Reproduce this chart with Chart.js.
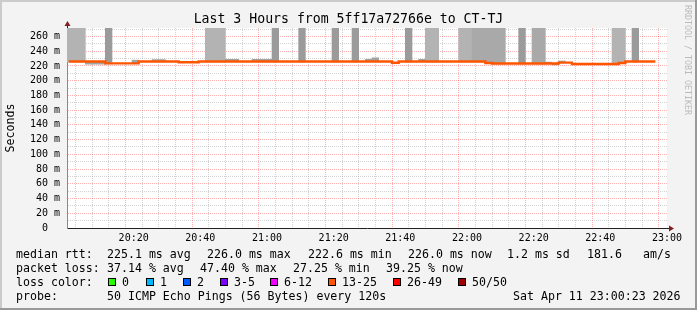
<!DOCTYPE html>
<html>
<head>
<meta charset="utf-8">
<script src="https://cdn.jsdelivr.net/npm/chart.js@4.4.1/dist/chart.umd.min.js"></script>
<style>
  html, body { margin: 0; padding: 0; }
  body { width: 697px; height: 310px; position: relative; overflow: hidden; background: #f3f3f3;
         font-family: 'DejaVu Sans Mono', monospace; color: #000; }
  canvas { position: absolute; left: 0; top: 0; }
  .t { position: absolute; white-space: pre; font-size: 11.6px; line-height: 14px; }
  #title { position: absolute; left: 0; top: 11px; width: 697px; text-align: center; white-space: pre;
           font-size: 13.2px; line-height: 16px; }
  #credit { position: absolute; left: 683px; top: 5px; writing-mode: vertical-rl; font-size: 8.3px;
            line-height: 10px; color: #bbbbbb; white-space: pre; }
  .box { position: absolute; top: 278px; width: 6px; height: 6px; border: 1px solid #000; }
</style>
</head>
<body>
<canvas id="chart" width="697" height="310"></canvas>
<div id="title">Last 3 Hours from 5ff17a72766e to CT-TJ</div>
<div id="credit">RRDTOOL / TOBI OETIKER</div>
<div id="legend"></div>
<script>
// median rtt per 120s step (ms), step i centred at 20:00 + (2i + 0.5) min
const medianRtt = [
  226.0, 226.0, 226.0, 226.0, 226.0, 226.0, 223.5, 223.5, 223.5, 223.5,
  223.5, 226.0, 226.0, 226.0, 226.0, 226.0, 226.0, 225.0, 225.0, 225.0,
  226.0, 226.0, 226.0, 226.0, 226.0, 226.0, 226.0, 226.0, 226.0, 226.0,
  226.0, 226.0, 226.0, 226.0, 226.0, 226.0, 226.0, 226.0, 226.0, 226.0,
  226.0, 226.0, 226.0, 226.0, 226.0, 226.0, 226.0, 226.0, 226.0, 224.4,
  226.0, 226.0, 226.0, 226.0, 226.0, 226.0, 226.0, 226.0, 226.0, 226.0,
  226.0, 226.0, 226.0, 224.0, 223.3, 223.3, 223.3, 223.3, 223.3, 223.3,
  223.3, 223.3, 223.3, 223.3, 224.5, 224.5, 222.6, 222.6, 222.6, 222.6,
  222.6, 222.6, 222.6, 224.0, 226.0, 226.0, 226.0, 226.0, 226.0
];

// smoke that runs off the top of the graph
const smokeTallSteps   = [0, 1, 2, 6, 21, 22, 23, 31, 35, 40, 43, 51, 54, 55, 59, 60, 61, 62, 63, 64, 65, 68, 70, 71, 82, 83, 85];
const smokeTallLo      = [225.4, 225.4, 225.4, 222.9, 225.4, 225.4, 225.4, 225.4, 225.4, 225.4, 225.4, 225.4, 225.4, 225.4,
                          225.4, 225.4, 225.4, 225.4, 223.4, 222.7, 222.7, 222.7, 222.7, 222.7, 222.0, 223.4, 225.4];
const smokeTallDensity = [1, 1, 1, 3, 1, 1, 1, 3, 3, 3, 3, 3, 1, 1, 1, 1, 2, 2, 2, 2, 2, 3, 2, 2, 1, 1, 3];
const smokeTop = 280;

// small smoke bits near the median
const smokeBitSteps = [3, 4, 5, 10, 13, 14, 24, 25, 28, 29, 30, 45, 46, 53, 72, 73, 74];
const smokeBitLo    = [222.4, 222.4, 222.4, 223.5, 226.0, 226.0, 226.0, 226.0, 226.0, 226.0, 226.0, 226.0, 226.0, 226.0, 223.3, 221.4, 224.5];
const smokeBitHi    = [225.5, 225.5, 225.5, 227.8, 228.6, 228.6, 229.0, 229.0, 229.0, 229.0, 229.0, 229.0, 231.0, 229.0, 225.2, 223.3, 226.7];

const yMajorTicks = [0, 20, 40, 60, 80, 100, 120, 140, 160, 180, 200, 220, 240, 260];
const yTickLabels = ['0  ', '20 m', '40 m', '60 m', '80 m', '100 m', '120 m', '140 m', '160 m', '180 m', '200 m', '220 m', '240 m', '260 m'];
const xMajorTicks = [20, 40, 60, 80, 100, 120, 140, 160, 180]; // minutes after 20:00
const xTickLabels = ['20:20', '20:40', '21:00', '21:20', '21:40', '22:00', '22:20', '22:40', '23:00'];

const FONT = 'DejaVu Sans Mono';
const MGRID = 'rgba(255, 40, 40, 0.36)';
const GRID = 'rgba(150, 150, 150, 0.42)';
const SHADES = { 1: '#b3b3b3', 2: '#a9a9a9', 3: '#9b9b9b' };

// legend rows under the graph
const legendRows = [
  { top: 247, items: [[16, 'median rtt:'], [107, '225.1 ms avg'], [207, '226.0 ms max'], [308, '222.6 ms min'],
                      [408, '226.0 ms now'], [507, '1.2 ms sd'], [587, '181.6'], [643, 'am/s']] },
  { top: 261, items: [[16, 'packet loss:'], [107, '37.14 % avg'], [200, '47.40 % max'], [293, '27.25 % min'], [386, '39.25 % now']] },
  { top: 275, items: [[16, 'loss color:']] },
  { top: 289, items: [[16, 'probe:'], [107, '50 ICMP Echo Pings (56 Bytes) every 120s'], [513, 'Sat Apr 11 23:00:23 2026']] }
];
const lossLabels = ['0', '1', '2', '3-5', '6-12', '13-25', '26-49', '50/50'];
const lossColors = ['#26ff00', '#00b8ff', '#0059ff', '#7e00ff', '#ee00ff', '#ff5500', '#ff0000', '#a10000'];
const lossBoxX = [108, 146, 183, 220, 270, 328, 393, 458];

const legend = document.getElementById('legend');
legendRows.forEach(row => {
  row.items.forEach(([x, text]) => {
    const d = document.createElement('div');
    d.className = 't';
    d.style.left = x + 'px';
    d.style.top = row.top + 'px';
    d.textContent = text;
    legend.appendChild(d);
  });
});
lossLabels.forEach((label, i) => {
  const b = document.createElement('div');
  b.className = 'box';
  b.style.left = lossBoxX[i] + 'px';
  b.style.background = lossColors[i];
  legend.appendChild(b);
  const d = document.createElement('div');
  d.className = 't';
  d.style.left = (lossBoxX[i] + 14) + 'px';
  d.style.top = '275px';
  d.textContent = label;
  legend.appendChild(d);
});

// grid positions
const yGrid = [];
for (let v = 0; v <= 270; v += 10) yGrid.push(v);
const xGrid = [];
for (let v = 0; v <= 180; v += 5) xGrid.push(v);

const frame = {
  id: 'frame',
  beforeDraw(chart) {
    const { ctx, width, height, chartArea: a } = chart;
    ctx.save();
    ctx.fillStyle = '#f3f3f3';
    ctx.fillRect(0, 0, width, height);
    ctx.fillStyle = '#cbcbcb';
    ctx.fillRect(0, 0, width, 2);
    ctx.fillRect(0, 0, 2, height);
    ctx.fillStyle = '#999999';
    ctx.fillRect(0, height - 2, width, 2);
    ctx.fillRect(width - 2, 0, 2, height);
    ctx.fillStyle = '#ffffff';
    ctx.fillRect(a.left, a.top, a.right - a.left, a.bottom - a.top);
    ctx.restore();
  },
  afterDraw(chart) {
    const { ctx, chartArea: a } = chart;
    ctx.save();
    ctx.strokeStyle = '#222';
    ctx.lineWidth = 1;
    ctx.beginPath();
    ctx.moveTo(a.right, a.bottom + 0.5);
    ctx.lineTo(a.right + 2, a.bottom + 0.5);
    ctx.moveTo(a.left + 0.5, a.top);
    ctx.lineTo(a.left + 0.5, a.top - 2);
    ctx.stroke();
    ctx.fillStyle = '#7f1f1f';
    ctx.beginPath();
    ctx.moveTo(a.left + 0.5, a.top - 7);
    ctx.lineTo(a.left - 2.5, a.top - 2);
    ctx.lineTo(a.left + 3.5, a.top - 2);
    ctx.closePath();
    ctx.fill();
    ctx.beginPath();
    ctx.moveTo(a.right + 7, a.bottom + 0.5);
    ctx.lineTo(a.right + 2, a.bottom - 2.5);
    ctx.lineTo(a.right + 2, a.bottom + 3.5);
    ctx.closePath();
    ctx.fill();
    ctx.restore();
  }
};

new Chart(document.getElementById('chart'), {
  type: 'bar',
  data: {
    datasets: [{
      type: 'line',
      data: medianRtt.map((v, i) => ({ x: i * 2 + 0.5, y: v })),
      borderColor: '#ff5500',
      borderWidth: 2.4,
      pointRadius: 0,
      stepped: 'middle',
      order: 0
    }, {
      type: 'bar',
      data: smokeBitSteps.map((s, k) => ({ x: s * 2 + 0.5, y: [smokeBitLo[k], smokeBitHi[k]] })),
      backgroundColor: '#a2a2a2',
      borderWidth: 0,
      grouped: false,
      clip: 0,
      barPercentage: 1,
      categoryPercentage: 1,
      order: 1
    }, {
      type: 'bar',
      data: smokeTallSteps.map((s, k) => ({ x: s * 2 + 0.5, y: [smokeTallLo[k], smokeTop] })),
      backgroundColor: smokeTallDensity.map(d => SHADES[d]),
      borderWidth: 0,
      grouped: false,
      clip: 0,
      barPercentage: 1,
      categoryPercentage: 1,
      order: 2
    }]
  },
  options: {
    responsive: false,
    animation: false,
    devicePixelRatio: 1,
    layout: { padding: { top: 28, right: 30, bottom: 62, left: 0 } },
    plugins: { legend: { display: false }, tooltip: { enabled: false } },
    scales: {
      x: {
        type: 'linear',
        min: 0,
        max: 180,
        offset: false,
        afterBuildTicks: s => { s.ticks = xGrid.map(v => ({ value: v })); },
        afterFit: s => { s.height = 20; },
        grid: {
          color: c => (c.tick && xMajorTicks.includes(c.tick.value)) ? MGRID : GRID,
          drawTicks: false
        },
        border: { color: '#222', width: 1, dash: [1, 1] },
        ticks: {
          autoSkip: false,
          maxRotation: 0,
          padding: 4,
          color: '#000',
          font: { family: FONT, size: 10 },
          callback: v => {
            const i = xMajorTicks.indexOf(v);
            return i >= 0 ? xTickLabels[i] : '';
          }
        }
      },
      y: {
        min: 0,
        max: 271.5,
        afterBuildTicks: s => { s.ticks = yGrid.map(v => ({ value: v })); },
        afterFit: s => { s.width = 67; },
        grid: {
          color: c => (c.tick && c.tick.value % 20 === 0) ? MGRID : GRID,
          drawTicks: false
        },
        border: { color: '#8a8a8a', width: 1, dash: [1, 1] },
        ticks: {
          autoSkip: false,
          padding: 7,
          color: '#000',
          font: { family: FONT, size: 10 },
          callback: v => {
            const i = yMajorTicks.indexOf(v);
            return i >= 0 ? yTickLabels[i] : '';
          }
        },
        title: {
          display: true,
          text: 'Seconds',
          color: '#000',
          font: { family: FONT, size: 11.6 },
          padding: { top: 4, bottom: 0 }
        }
      }
    }
  },
  plugins: [frame]
});
</script>
</body>
</html>
